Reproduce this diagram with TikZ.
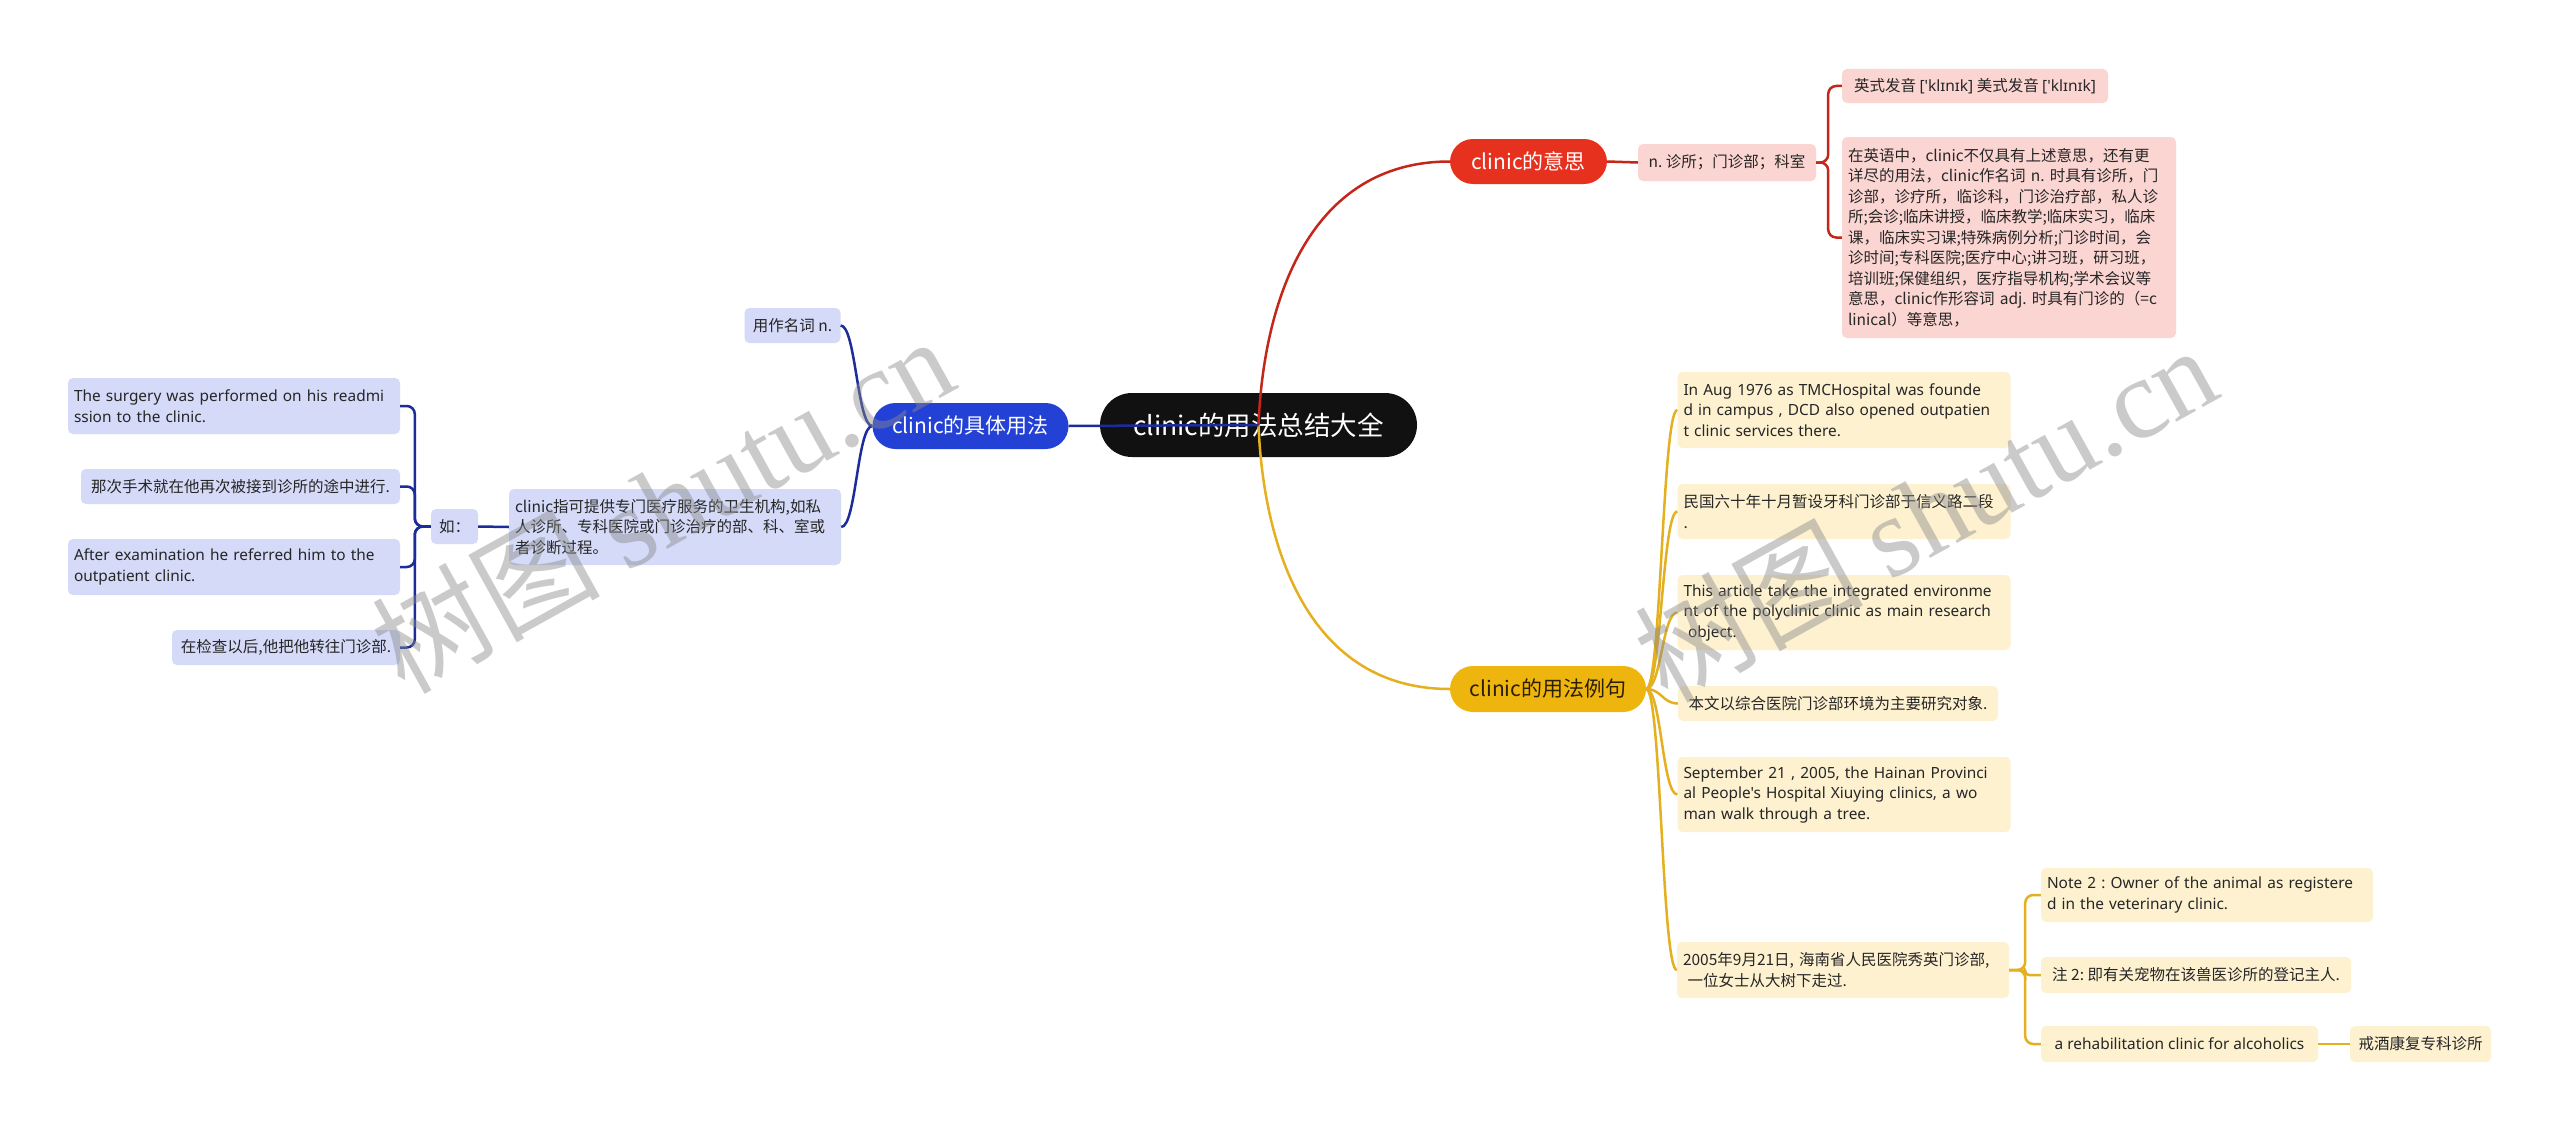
\documentclass[tikz,border=0pt]{standalone}
\usepackage{fontspec}
\setmainfont{Noto Sans CJK SC}
\newfontfamily\latinf{Noto Sans}
\newfontfamily\wmserif{Liberation Serif}
\newfontfamily\wmcjk{Noto Sans CJK SC}
\definecolor{rootf}{HTML}{111111}
\definecolor{redf}{HTML}{E7311F}
\definecolor{redl}{HTML}{C4261A}
\definecolor{pinkf}{HTML}{FBD5D2}
\definecolor{yelf}{HTML}{EFB50F}
\definecolor{ytxt}{HTML}{2A1F00}
\definecolor{yell}{HTML}{E4B01F}
\definecolor{creamf}{HTML}{FDF1D0}
\definecolor{bluef}{HTML}{2441D5}
\definecolor{bluel}{HTML}{1B2C9B}
\definecolor{lavf}{HTML}{D4DAF7}
\definecolor{txt}{HTML}{262626}
\definecolor{wmgray}{HTML}{8A8A8A}
\begin{document}
\frenchspacing
\begin{tikzpicture}[x=1pt,y=-1pt,
  box/.style={rounded corners=5, inner xsep=8, inner ysep=0, align=left, text=txt,
    font=\fontsize{15.5}{20.5}\selectfont},
  multi/.style={inner xsep=6, text width=#1},
  pinkbox/.style={box, fill=pinkf},
  creambox/.style={box, fill=creamf},
  lavbox/.style={box, fill=lavf},
  en/.style={font=\latinf\fontsize{15.4}{20.5}\selectfont},
  pill/.style={rounded corners=23, minimum height=46, inner xsep=10, inner ysep=0,
    font=\fontsize{21}{25}\selectfont},
  rootbox/.style={fill=rootf, text=white, rounded corners=32, minimum width=317,
    minimum height=64, inner sep=0, font=\fontsize{26.5}{30}\selectfont},
  redline/.style={draw=redl, line width=2.5},
  yline/.style={draw=yell, line width=2.5},
  bline/.style={draw=bluel, line width=2.5},
  wm/.style={text=wmgray, text opacity=0.45, font=\fontsize{114}{120}\selectfont, inner sep=0}
]
\fill[white] (0,0) rectangle (2560,1132);
\useasboundingbox (0,0) rectangle (2560,1132);

% root
\node[rootbox] (root) at (1258.5,425) {clinic的用法总结大全};

% red branch
\node[pill, fill=redf, text=white, minimum width=157, minimum height=45] (m) at (1528.5,161.5) {clinic的意思};
\node[pinkbox, minimum width=178, minimum height=37] (m1) at (1727,162.5) {n. 诊所；门诊部；科室};
\node[pinkbox, minimum width=266, minimum height=34] (m2) at (1975,86) {英式发音 {\latinf ['klɪnɪk]} 美式发音 {\latinf ['klɪnɪk]}};
\node[pinkbox, multi=322pt, minimum width=334, minimum height=201] (m3) at (2009,237.5) {在英语中，clinic不仅具有上述意思，还有更\\详尽的用法，clinic作名词 n. 时具有诊所，门\\诊部，诊疗所，临诊科，门诊治疗部，私人诊\\所;会诊;临床讲授，临床教学;临床实习，临床\\课，临床实习课;特殊病例分析;门诊时间，会\\诊时间;专科医院;医疗中心;讲习班，研习班，\\培训班;保健组织，医疗指导机构;学术会议等\\意思，clinic作形容词 adj. 时具有门诊的（=c\\linical）等意思，};

% yellow branch
\node[pill, fill=yelf, text=ytxt, minimum width=196] (e) at (1548,689) {clinic的用法例句};
\node[creambox, en, multi=321pt, minimum width=333, minimum height=76] (e1) at (1844,410) {In Aug 1976 as TMCHospital was founde\\d in campus , DCD also opened outpatien\\t clinic services there.};
\node[creambox, multi=321pt, minimum width=333, minimum height=55] (e2) at (1844,511.5) {民国六十年十月暂设牙科门诊部于信义路二段\\.};
\node[creambox, en, multi=321pt, minimum width=333, minimum height=75] (e3) at (1844,612.5) {This article take the integrated environme\\nt of the polyclinic clinic as main research\\\hspace*{0.3em}object.};
\node[creambox, minimum width=320, minimum height=35] (e4) at (1838,703.5) {本文以综合医院门诊部环境为主要研究对象.};
\node[creambox, en, multi=321pt, minimum width=333, minimum height=75] (e5) at (1844,794.5) {September 21 , 2005, the Hainan Provinci\\al People's Hospital Xiuying clinics, a wo\\man walk through a tree.};
\node[creambox, multi=320pt, minimum width=332, minimum height=56] (e6) at (1843,970) {2005年9月21日, 海南省人民医院秀英门诊部,\\\hspace*{0.3em}一位女士从大树下走过.};
\node[creambox, en, multi=320pt, minimum width=332, minimum height=54] (n1) at (2207,895) {Note 2 : Owner of the animal as registere\\d in the veterinary clinic.};
\node[creambox, minimum width=310, minimum height=36] (n2) at (2196,975) {注 2: 即有关宠物在该兽医诊所的登记主人.};
\node[creambox, en, minimum width=277, minimum height=36] (n3) at (2179.5,1044) {a rehabilitation clinic for alcoholics};
\node[creambox, minimum width=141, minimum height=36] (n4) at (2420.5,1044) {戒酒康复专科诊所};

% blue branch
\node[pill, fill=bluef, text=white, minimum width=196] (b) at (970.5,426) {clinic的具体用法};
\node[lavbox, minimum width=96, minimum height=35] (b1) at (792.5,325.5) {用作名词 n.};
\node[lavbox, multi=320pt, minimum width=332, minimum height=76] (b2) at (675,527) {clinic指可提供专门医疗服务的卫生机构,如私\\人诊所、专科医院或门诊治疗的部、科、室或\\者诊断过程。};
\node[lavbox, minimum width=47, minimum height=35] (ru) at (454.5,526.5) {如：};
\node[lavbox, en, multi=320pt, minimum width=332, minimum height=56] (c1) at (234,406) {The surgery was performed on his readmi\\ssion to the clinic.};
\node[lavbox, minimum width=319, minimum height=35] (c2) at (240.5,486.5) {那次手术就在他再次被接到诊所的途中进行.};
\node[lavbox, en, multi=320pt, minimum width=332, minimum height=56] (c3) at (234,567) {After examination he referred him to the\\outpatient clinic.};
\node[lavbox, minimum width=228, minimum height=35] (c4) at (286,647.5) {在检查以后,他把他转往门诊部.};

% connectors: red
\draw[redline] (root.center) .. controls +(5,-125) and +(-140,0) .. (m.west);
\draw[redline] (m.east) -- (m1.west);
\draw[redline, rounded corners=8] (m1.east) -- ++(12,0) |- (m2.west);
\draw[redline, rounded corners=8] (m1.east) -- ++(12,0) |- (m3.west);

% connectors: yellow
\draw[yline] (root.center) .. controls +(5,125) and +(-140,0) .. (e.west);
\foreach \c in {e1,e2,e3,e4,e5,e6}
  \draw[yline] (e.east) .. controls +(15,0) and +(-15,0) .. (\c.west);
\draw[yline, rounded corners=8] (e6.east) -- ++(16,0) |- (n1.west);
\draw[yline, rounded corners=4] (e6.east) -- ++(16,0) |- (n2.west);
\draw[yline, rounded corners=8] (e6.east) -- ++(16,0) |- (n3.west);
\draw[yline] (n3.east) -- (n4.west);

% connectors: blue
\draw[bline] (root.center) -- (b.east);
\draw[bline] (b.west) .. controls +(-15,0) and +(15,0) .. (b1.east);
\draw[bline] (b.west) .. controls +(-15,0) and +(15,0) .. (b2.east);
\draw[bline] (b2.west) -- (ru.east);
\foreach \c in {c1,c2,c3,c4}
  \draw[bline, rounded corners=8] (ru.west) -- ++(-16,0) |- (\c.east);

% watermarks
\node[wm, rotate=29] (wm1) at (662,503) {{\wmcjk 树图} {\wmserif shutu.cn}};
\node[wm, rotate=29] (wm2) at (1925,512) {{\wmcjk 树图} {\wmserif shutu.cn}};
\end{tikzpicture}
\end{document}
